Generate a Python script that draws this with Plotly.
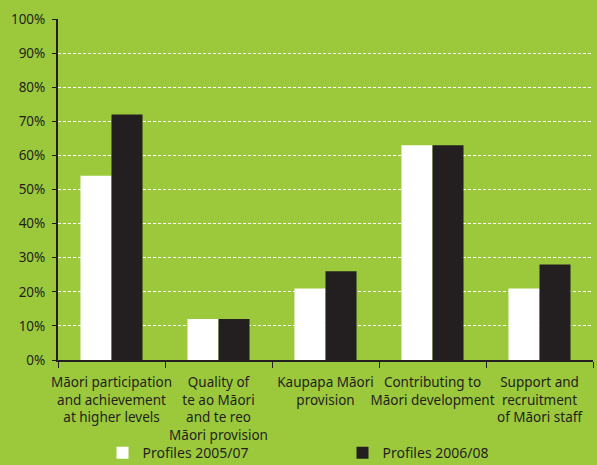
import plotly.graph_objects as go

categories = [
    "Māori participation<br>and achievement<br>at higher levels",
    "Quality of<br>te ao Māori<br>and te reo<br>Māori provision",
    "Kaupapa Māori<br>provision",
    "Contributing to<br>Māori development",
    "Support and<br>recruitment<br>of Māori staff",
]
profiles_2005_07 = [54, 12, 21, 63, 21]
profiles_2006_08 = [72, 12, 26, 63, 28]
y_ticks = list(range(0, 101, 10))
y_tick_labels = [f"{v}%" for v in y_ticks]

GREEN = "#9cc93c"
DARK = "#231f20"
FONT = "Noto Sans"

fig = go.Figure()
fig.add_trace(go.Bar(name="Profiles 2005/07", x=categories, y=profiles_2005_07,
                     marker=dict(color="white", line=dict(width=0)),
                     legend="legend"))
fig.add_trace(go.Bar(name="Profiles 2006/08", x=categories, y=profiles_2006_08,
                     marker=dict(color=DARK, line=dict(width=0)),
                     legend="legend2"))

legend_style = dict(
    orientation="h",
    xref="container", yref="container",
    xanchor="left", yanchor="top",
    font=dict(family=FONT, size=14, color=DARK),
    bgcolor="rgba(0,0,0,0)",
)

fig.update_layout(
    width=597, height=465,
    paper_bgcolor=GREEN, plot_bgcolor=GREEN,
    margin=dict(l=58, r=4, t=19, b=105, autoexpand=False),
    barmode="group", bargap=0.42, bargroupgap=0,
    font=dict(family=FONT, size=13, color=DARK),
    showlegend=True,
    legend=dict(x=0.1717, y=0.06, **legend_style),
    legend2=dict(x=0.5737, y=0.06, **legend_style),
)
fig.update_yaxes(
    range=[0, 100], tickvals=y_ticks, ticktext=y_tick_labels,
    showgrid=True, gridcolor="white", gridwidth=1, griddash="3px,2px",
    showline=True, linecolor=DARK, linewidth=2,
    ticks="outside", ticklen=4, tickcolor=DARK, tickwidth=1,
    zeroline=False, ticklabelstandoff=4, automargin=False,
    tickfont=dict(size=13.5),
)
fig.update_xaxes(
    showline=True, linecolor=DARK, linewidth=2,
    ticks="outside", tickson="boundaries", ticklen=6, tickcolor=DARK, tickwidth=1,
    showgrid=False, tickangle=0, ticklabelstandoff=9, automargin=False,
    tickfont=dict(size=13.5),
)
fig.write_html("out.html")
